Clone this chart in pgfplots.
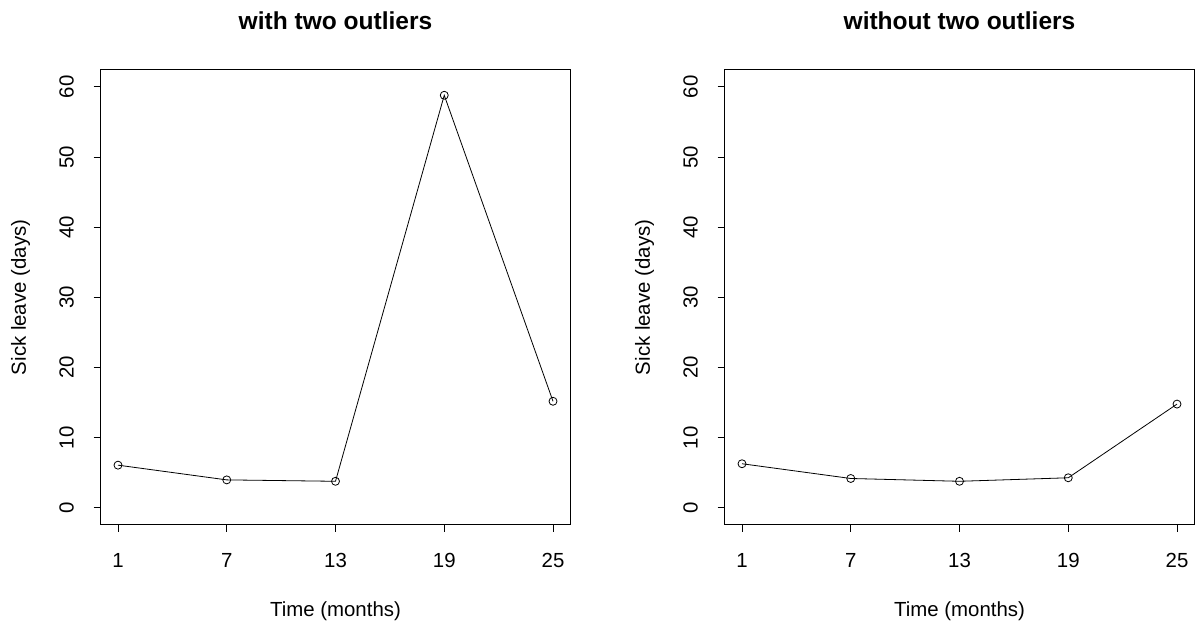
\documentclass[border=0pt]{standalone}
\usepackage{pgfplots}
\pgfplotsset{compat=1.18}
\usepackage{fontspec}
\setmainfont{Liberation Sans}
\pgfplotsset{
  rstyle/.style={
    scale only axis,
    width=352.35pt, height=341.1pt,
    xmin=0.04, xmax=25.96, ymin=-2.4, ymax=62.4,
    xtick={1,7,13,19,25}, ytick={0,10,20,30,40,50,60},
    xtick pos=bottom, ytick pos=left,
    tick align=outside, major tick length=5.25pt,
    tick style={black, line width=0.75pt},
    axis line style={line width=0.75pt},
    /pgf/number format/assume math mode=true,
    ticklabel style={font=\fontsize{15.3}{17}\selectfont},
    xticklabel style={anchor=base, yshift=-26.75pt},
    yticklabel style={xshift=-15pt, rotate=90, anchor=base},
    label style={font=\fontsize{15.3}{17}\selectfont},
    xlabel style={at={(axis description cs:0.5,0)}, anchor=base, yshift=-68.5pt},
    ylabel style={at={(axis description cs:0,0.5)}, anchor=base, yshift=56pt},
    title style={font=\bfseries\fontsize{18.4}{21}\selectfont, at={(axis description cs:0.5,1)}, anchor=base, yshift=24pt},
  },
  rline/.style={black, line width=0.6pt, mark=o, mark size=3pt, mark options={black, solid, line width=0.6pt}},
}
\begin{document}
\begin{tikzpicture}
\path[use as bounding box] (0,0) rectangle (896.25pt,469.5pt);
\begin{axis}[rstyle, at={(75.45pt,75.9pt)}, anchor=south west,
  title={with two outliers}, xlabel={Time (months)}, ylabel={Sick leave (days)}]
\addplot[rline] coordinates {(1,6.1) (7,4.0) (13,3.8) (19,58.8) (25,15.2)};
\end{axis}
\begin{axis}[rstyle, at={(543.45pt,75.9pt)}, anchor=south west,
  title={without two outliers}, xlabel={Time (months)}, ylabel={Sick leave (days)}]
\addplot[rline] coordinates {(1,6.3) (7,4.2) (13,3.8) (19,4.3) (25,14.8)};
\end{axis}
\end{tikzpicture}
\end{document}
